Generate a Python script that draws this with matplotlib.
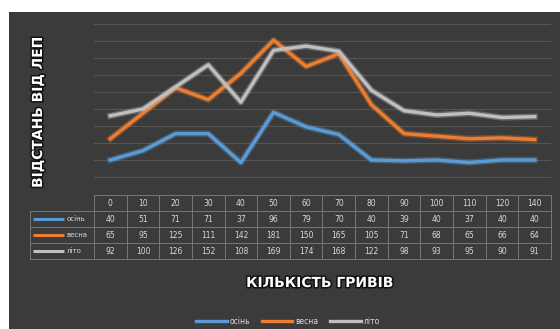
import matplotlib
matplotlib.use("Agg")
import matplotlib.pyplot as plt
from matplotlib.patches import Rectangle
from matplotlib.lines import Line2D
import matplotlib.patheffects as pe

# Кількість гривів (categories) and distances per season
categories = ["0", "10", "20", "30", "40", "50", "60", "70", "80", "90", "100", "110", "120", "140"]
autumn = [40, 51, 71, 71, 37, 96, 79, 70, 40, 39, 40, 37, 40, 40]
spring = [65, 95, 125, 111, 142, 181, 150, 165, 105, 71, 68, 65, 66, 64]
summer = [92, 100, 126, 152, 108, 169, 174, 168, 122, 98, 93, 95, 90, 91]

series_names = ["осінь", "весна", "літо"]
series_values = [autumn, spring, summer]
series_colors = ["#5b9bd5", "#ed7d31", "#bfbfbf"]

W, H = 560, 329
bg = "#3b3b3b"
fig = plt.figure(figsize=(W / 100, H / 100), dpi=100)
fig.patch.set_facecolor(bg)
# white margin along the top and left edges
fig.patches.append(Rectangle((0, 1 - 12 / H), 1, 12 / H, transform=fig.transFigure,
                             facecolor="white", edgecolor="none", zorder=-10))
fig.patches.append(Rectangle((0, 0), 9 / W, 1, transform=fig.transFigure,
                             facecolor="white", edgecolor="none", zorder=-10))

def px_box(x0, y0, x1, y1):
    return [x0 / W, 1 - y1 / H, (x1 - x0) / W, (y1 - y0) / H]

# main plot area
ax = fig.add_axes(px_box(94, 24, 551, 194))
ax.patch.set_alpha(0)
n = len(categories)
xs = list(range(n))
ax.set_xlim(-0.5, n - 0.5)
ax.set_ylim(0, 200)
ax.set_yticks(range(0, 201, 20))
ax.yaxis.grid(True, color="#555555", linewidth=0.8)
ax.set_axisbelow(True)
ax.tick_params(left=False, bottom=False, labelleft=False, labelbottom=False)
for s in ax.spines.values():
    s.set_visible(False)

glow = lambda c: [pe.Stroke(linewidth=4.5, foreground=c, alpha=0.35), pe.Normal()]
for name, vals, col in zip(series_names, series_values, series_colors):
    ax.plot(xs, vals, color=col, linewidth=2.4, solid_joinstyle="round",
            path_effects=glow(col), label=name)

# data table under the plot
tab = fig.add_axes(px_box(94, 195, 551, 259))
tab.set_xlim(-0.5, n - 0.5)
tab.set_ylim(4, 0)
tab.axis("off")
grid_col = "#777777"
text_col = "#d9d9d9"
left_edge = -0.5 - (94 - 30) / ((551 - 94) / n)
for r in range(5):
    x0 = -0.5 if r == 0 else left_edge
    tab.plot([x0, n - 0.5], [r, r], color=grid_col, linewidth=0.7, clip_on=False)
for c in range(n + 1):
    tab.plot([c - 0.5, c - 0.5], [0, 4], color=grid_col, linewidth=0.7, clip_on=False)
tab.plot([left_edge, left_edge], [1, 4], color=grid_col, linewidth=0.7, clip_on=False)

for i, cat in enumerate(categories):
    tab.text(i, 0.5, cat, ha="center", va="center", color=text_col, fontsize=5.5)
for r, (name, vals, col) in enumerate(zip(series_names, series_values, series_colors), start=1):
    for i, v in enumerate(vals):
        tab.text(i, r + 0.5, str(v), ha="center", va="center", color=text_col, fontsize=5.5)
    tab.plot([left_edge + 0.1, left_edge + 1.05], [r + 0.5, r + 0.5], color=col,
             linewidth=2.2, clip_on=False, solid_capstyle="butt")
    tab.text(left_edge + 1.12, r + 0.5, name, ha="left", va="center", color=text_col,
             fontsize=5, clip_on=False)

outline = [pe.withStroke(linewidth=2.2, foreground="#111111")]
fig.text(320 / W, 1 - 283 / H, "КІЛЬКІСТЬ ГРИВІВ", ha="center", va="center",
         color="white", fontsize=10, fontweight="bold", path_effects=outline)
fig.text(38 / W, 1 - 112 / H, "ВІДСТАНЬ ВІД ЛЕП", ha="center", va="center",
         rotation=90, color="white", fontsize=10, fontweight="bold", path_effects=outline)

handles = [Line2D([], [], color=c, linewidth=2.4) for c in series_colors]
leg = fig.legend(handles, series_names, loc="center", ncol=3,
                 bbox_to_anchor=(288 / W, 1 - 321 / H), frameon=False,
                 fontsize=5.5, handlelength=4, columnspacing=1.5, handletextpad=0.4,
                 labelcolor=text_col)

fig.savefig("out.png", dpi=100, facecolor=bg)
